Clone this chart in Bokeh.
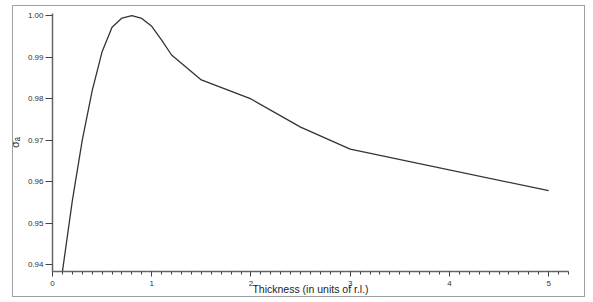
from bokeh.plotting import figure
from bokeh.models import NumeralTickFormatter, FixedTicker, InlineStyleSheet
from bokeh.embed import file_html
from bokeh.resources import INLINE

thickness = [0.1, 0.2, 0.3, 0.4, 0.5, 0.6, 0.7, 0.8, 0.9, 1.0, 1.1, 1.2, 1.5, 2.0, 2.5, 3.0, 5.0]
sigma_a = [0.9383, 0.9554, 0.9700, 0.9819, 0.9913, 0.9972, 0.9994, 1.0000, 0.9993,
           0.9974, 0.9941, 0.9905, 0.9845, 0.9799, 0.9731, 0.9678, 0.9578]
y_ticks = [0.94, 0.95, 0.96, 0.97, 0.98, 0.99, 1.00]
x_ticks = [0, 1, 2, 3, 4, 5]

box_css = InlineStyleSheet(css="""
:host { position: relative; }
:host::after {
  content: ''; position: absolute; left: 12px; top: 5px; width: 573px; height: 292px;
  border: 1.5px solid #a0a0a0; box-sizing: border-box; pointer-events: none;
}
""")

p = figure(width=593, height=302, output_backend="svg", toolbar_location=None,
           x_range=(0, 5.2), y_range=(0.93831, 1.0005),
           min_border_left=52, min_border_right=25, min_border_top=13, min_border_bottom=31)
p.stylesheets = [box_css]
p.outline_line_color = None
p.grid.grid_line_color = None
p.background_fill_color = "white"
p.border_fill_color = "white"

p.line(thickness, sigma_a, line_color="#333333", line_width=1.3)

for ax in (p.xaxis[0], p.yaxis[0]):
    ax.axis_line_color = "#666666"
    ax.axis_line_width = 1.5
    ax.major_tick_line_color = "#444444"
    ax.major_tick_line_width = 1
    ax.minor_tick_line_color = "#444444"
    ax.major_tick_in = 0
    ax.major_label_text_font = "Liberation Sans"
    ax.major_label_text_font_size = "8px"
    ax.major_label_text_color = "#333333"
    ax.axis_label_text_font = "Liberation Sans"
    ax.axis_label_text_font_style = "normal"
    ax.axis_label_text_color = "#222222"

p.xaxis.ticker = FixedTicker(ticks=x_ticks, minor_ticks=[i / 10 for i in range(0, 53)])
p.xaxis.major_tick_out = 5
p.xaxis.minor_tick_out = 3
p.xaxis.minor_tick_in = 0
p.xaxis.major_label_standoff = 4
p.xaxis.axis_label = "Thickness (in units of r.l.)"
p.xaxis.axis_label_text_font_size = "10.5px"
p.xaxis.axis_label_standoff = -6

p.yaxis.ticker = FixedTicker(ticks=y_ticks, minor_ticks=[])
p.yaxis.formatter = NumeralTickFormatter(format="0.00")
p.yaxis.minor_tick_line_color = None
p.yaxis.major_tick_out = 7
p.yaxis.major_label_standoff = 2
p.yaxis.axis_label = "σₐ"
p.yaxis.axis_label_text_font_size = "11px"
p.yaxis.axis_label_standoff = 4

open("out.html", "w").write(file_html(p, INLINE))
